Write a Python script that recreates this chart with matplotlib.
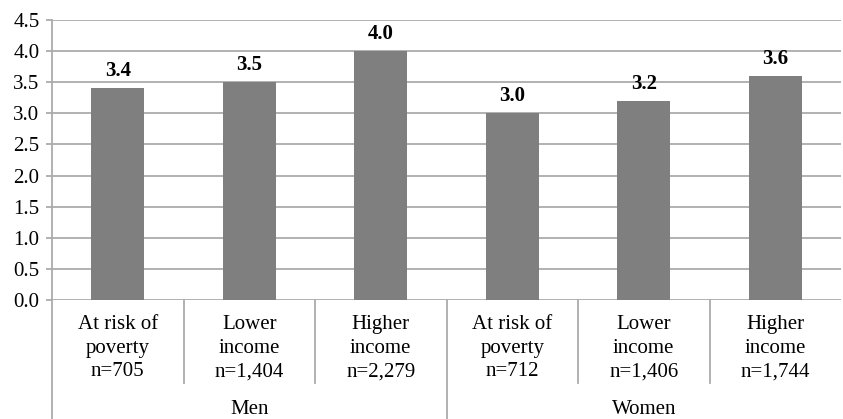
import numpy as np
import matplotlib
matplotlib.use('Agg')
import matplotlib.pyplot as plt
from matplotlib import rc
import matplotlib.transforms as mtransforms

rc('font', **{'family': 'serif', 'serif': ['Liberation Serif'], 'size': 15})

groups = ['Men', 'Women']
categories = ['At risk of\npoverty\nn=705', 'Lower\nincome\nn=1,404', 'Higher\nincome\nn=2,279',
              'At risk of\npoverty\nn=712', 'Lower\nincome\nn=1,406', 'Higher\nincome\nn=1,744']
values = [3.4, 3.5, 4.0, 3.0, 3.2, 3.6]
yticks = [0.0, 0.5, 1.0, 1.5, 2.0, 2.5, 3.0, 3.5, 4.0, 4.5]

W, H = 843, 419
fig = plt.figure(figsize=(W / 100, H / 100), dpi=100)
ax = fig.add_axes([52 / W, (H - 300) / H, (841 - 52) / W, 280 / H])

x = np.arange(len(values))
bars = ax.bar(x, values, width=0.4, color='#7f7f7f', zorder=3)

for xi, v in zip(x, values):
    ax.annotate('%.1f' % v, (xi, v), xytext=(0, 12.5), textcoords='offset points',
                ha='center', va='center', fontweight='bold', fontsize=15)

grid_col = '#ababab'
ax.set_ylim(0, 4.5)
ax.set_xlim(-0.5, len(values) - 0.5)
ax.set_yticks(yticks)
ax.set_yticklabels(['%.1f' % t for t in yticks])
ax.yaxis.grid(True, color=grid_col, linewidth=1.3, zorder=0)
ax.set_xticks([])
for s in ['top', 'right', 'bottom']:
    ax.spines[s].set_visible(False)
ax.spines['left'].set_color(grid_col)
ax.spines['left'].set_linewidth(1.3)
ax.tick_params(axis='y', length=4, width=1.3, color=grid_col, pad=5)

trans = mtransforms.blended_transform_factory(ax.transData, ax.transAxes)

# category labels
for xi, lab in zip(x, categories):
    ax.text(xi, -0.055, lab, transform=trans, ha='center', va='top',
            fontsize=15, linespacing=1.32)

# separators: short between categories, long between groups
n_per = len(categories) // len(groups)
for b in range(len(categories)):
    xb = b - 0.5
    low = -0.425 if b % n_per == 0 else -0.296
    ax.plot([xb, xb], [0, low], transform=trans, color=grid_col, linewidth=1.3, clip_on=False)

# group labels
for g, name in enumerate(groups):
    xc = g * n_per + (n_per - 1) / 2
    ax.text(xc, -0.392, name, transform=trans, ha='center', va='center', fontsize=15)

fig.savefig('out.png', dpi=100)
